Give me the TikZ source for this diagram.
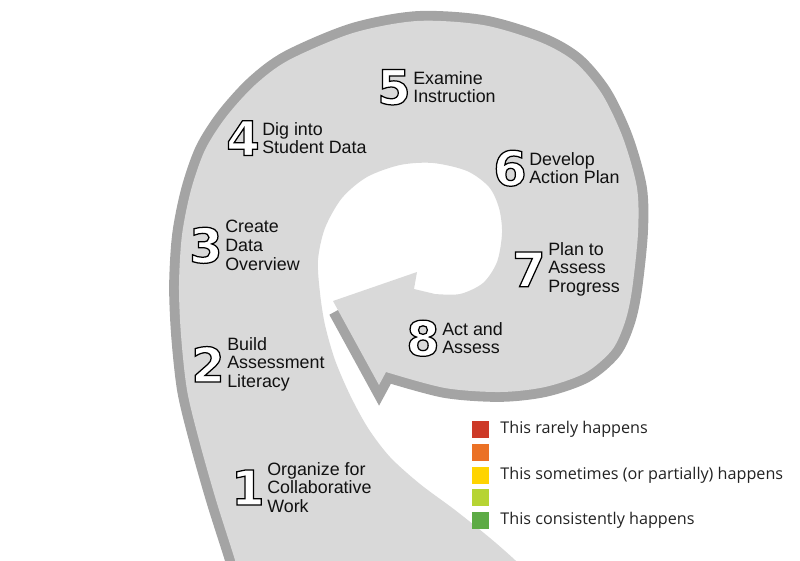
\documentclass[tikz,border=0pt]{standalone}
\usepackage{fontspec}
\usepackage{xcolor}
\usepackage{tikz}
\usetikzlibrary{positioning}
\setsansfont{Liberation Sans}
\newfontfamily\numfont{DejaVu Sans Bold}[FakeBold=2.6]
\newfontfamily\keyfont{Open Sans}
\newcommand{\hollow}[1]{\special{pdf:bc [1 1 1] [0 0 0]}#1\special{pdf:ec}}
\definecolor{cyFill}{HTML}{D9D9D9}
\definecolor{cyEdge}{HTML}{A4A4A4}
\definecolor{cyInk}{HTML}{111111}
\definecolor{keyRed}{HTML}{CD3A28}
\definecolor{keyOrange}{HTML}{EB7125}
\definecolor{keyYellow}{HTML}{FFD400}
\definecolor{keyLime}{HTML}{B6D433}
\definecolor{keyGreen}{HTML}{5DAB45}
\definecolor{keyText}{HTML}{222222}

\begin{document}
\begin{tikzpicture}[x=0.025cm, y=-0.025cm,
  band/.style={fill=cyFill},
  rim/.style={draw=cyEdge, line width=14pt, line join=miter, miter limit=2.5},
  stage/.style={font=\sffamily\fontsize{12.7}{13.3}\selectfont, text=cyInk, align=left,
                inner sep=0pt, anchor=north west},
  num/.style={font=\numfont\fontsize{34}{34}\selectfont, inner sep=0pt},
  swatch/.style={minimum size=12pt, inner sep=0pt},
  key/.style={font=\keyfont\fontsize{11.5}{13}\selectfont, text=keyText, inner sep=0pt}
]
\useasboundingbox (0,0) rectangle (800,560);

\draw[rim] plot[smooth] coordinates {(240,580) (235,560) (216,500) (199,440) (187,390) (181,335)
    (179,285) (182,235) (191,190) (205,150) (226,117) (255,85) (289,60) (353,33) (417,21)
    (483,25) (540,42) (575,62) (602,94) (623,138) (637,188) (638,233) (632,290) (625,322)
    (612,350) (585,373) (545,387) (500,392) (445,388) (386,372)}
  -- (379,385) -- (338,310);

\fill[band] plot[smooth] coordinates {(240,580) (235,560) (216,500) (199,440) (187,390) (181,335)
    (179,285) (182,235) (191,190) (205,150) (226,117) (255,85) (289,60) (353,33) (417,21)
    (483,25) (540,42) (575,62) (602,94) (623,138) (637,188) (638,233) (632,290) (625,322)
    (612,350) (585,373) (545,387) (500,392) (445,388) (386,372)}
  -- (379,385) -- (333,301) -- (417,272) -- (414,289)
  -- plot[smooth] coordinates {(435,294) (460,294) (483,283) (497,262) (502,233) (499,208)
    (489,187) (467,171) (433,163) (400,165) (367,177) (342,198) (325,228) (318,260) (320,293)
    (325,325) (335,360) (350,395) (368,428) (390,457) (420,484) (455,510) (490,538) (515,560)
    (535,580)}
  -- cycle;

\node[stage] (s1) at (267,462) {Organize for\\Collaborative\\Work};
\node[num, left=1.5pt of s1] (n1) {\hollow{1}};
\node[stage] (s2) at (227,337) {Build\\Assessment\\Literacy};
\node[num, left=1.5pt of s2] (n2) {\hollow{2}};
\node[stage] (s3) at (225,220) {Create\\Data\\Overview};
\node[num, left=1.5pt of s3] (n3) {\hollow{3}};
\node[stage] (s4) at (262,122) {Dig into\\Student Data};
\node[num, left=1.5pt of s4] (n4) {\hollow{4}};
\node[stage] (s5) at (413,71) {Examine\\Instruction};
\node[num, left=1.5pt of s5] (n5) {\hollow{5}};
\node[stage] (s6) at (529,152) {Develop\\Action Plan};
\node[num, left=1.5pt of s6] (n6) {\hollow{6}};
\node[stage] (s7) at (548,242) {Plan to\\Assess\\Progress};
\node[num, left=1.5pt of s7] (n7) {\hollow{7}};
\node[stage] (s8) at (442,322) {Act and\\Assess};
\node[num, left=1.5pt of s8] (n8) {\hollow{8}};

\node[swatch, fill=keyRed] (k1) at (480.5,429.5) {};
\node[swatch, fill=keyOrange, below=3.8pt of k1] (k2) {};
\node[swatch, fill=keyYellow, below=3.8pt of k2] (k3) {};
\node[swatch, fill=keyLime, below=3.8pt of k3] (k4) {};
\node[swatch, fill=keyGreen, below=3.8pt of k4] (k5) {};
\node[key, right=7.8pt of k1] (t1) {This rarely happens};
\node[key, right=7.8pt of k3] (t3) {This sometimes (or partially) happens};
\node[key, right=7.8pt of k5] (t5) {This consistently happens};
\end{tikzpicture}
\end{document}
